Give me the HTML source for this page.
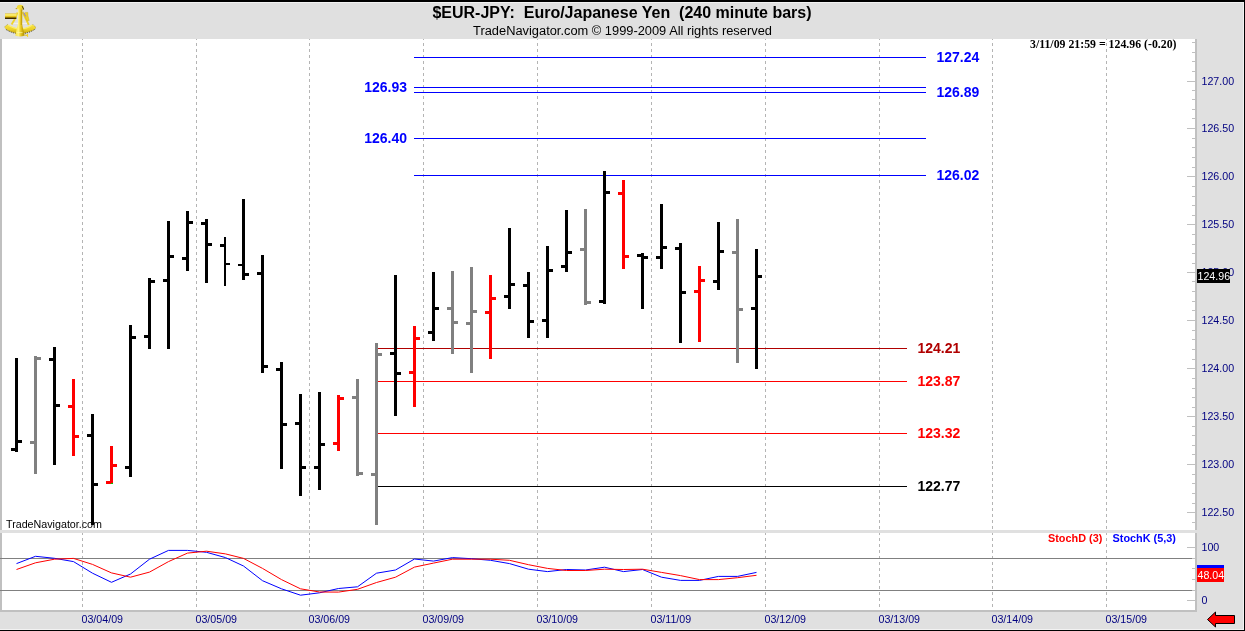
<!DOCTYPE html>
<html lang="en"><head><meta charset="utf-8"><title>$EUR-JPY: Euro/Japanese Yen (240 minute bars)</title>
<style>
html,body{margin:0;padding:0;background:#e0e0e0;}
body{width:1245px;height:631px;overflow:hidden;position:relative;font-family:"Liberation Sans",sans-serif;}
svg{position:absolute;left:0;top:0;display:block;}
text{font-family:"Liberation Sans",sans-serif;}
.ser{font-family:"Liberation Serif",serif;font-weight:bold;}
.b{font-weight:bold;}
.ax{fill:#000080;font-size:10.67px;}
.lv{font-size:14px;font-weight:bold;}
</style></head><body>
<svg width="1245" height="631" viewBox="0 0 1245 631">
<g shape-rendering="crispEdges">
<rect x="0" y="0" width="1245" height="631" fill="#e0e0e0"/>
<rect x="0" y="2" width="1244" height="1" fill="#f2f2f2"/>
<rect x="0" y="629" width="1244" height="1" fill="#f2f2f2"/>
<rect x="1243" y="2" width="1" height="628" fill="#f2f2f2"/>
<rect x="0" y="0" width="1245" height="2" fill="#000"/>
<rect x="0" y="630" width="1245" height="1" fill="#000"/>
<rect x="1244" y="0" width="1" height="631" fill="#000"/>
<rect x="0" y="39" width="1197" height="491" fill="#fff"/>
<rect x="0" y="533" width="1197" height="77" fill="#fff"/>
<rect x="0" y="39" width="2" height="573" fill="#c0c0c0"/>
<rect x="1195" y="39" width="2" height="573" fill="#c0c0c0"/>
<rect x="0" y="610" width="1197" height="2" fill="#c0c0c0"/>
<g stroke="#b4b4b4" stroke-width="1" stroke-dasharray="3 3">
<line x1="82.5" y1="39" x2="82.5" y2="90" stroke-dashoffset="2"/>
<line x1="82.5" y1="90" x2="82.5" y2="266" stroke-dashoffset="0"/>
<line x1="82.5" y1="266" x2="82.5" y2="465" stroke-dashoffset="3"/>
<line x1="82.5" y1="465" x2="82.5" y2="530" stroke-dashoffset="5"/>
<line x1="82.5" y1="533" x2="82.5" y2="610" stroke-dashoffset="1"/>
<line x1="196.5" y1="39" x2="196.5" y2="90" stroke-dashoffset="2"/>
<line x1="196.5" y1="90" x2="196.5" y2="266" stroke-dashoffset="0"/>
<line x1="196.5" y1="266" x2="196.5" y2="465" stroke-dashoffset="3"/>
<line x1="196.5" y1="465" x2="196.5" y2="530" stroke-dashoffset="5"/>
<line x1="196.5" y1="533" x2="196.5" y2="610" stroke-dashoffset="1"/>
<line x1="309.5" y1="39" x2="309.5" y2="90" stroke-dashoffset="2"/>
<line x1="309.5" y1="90" x2="309.5" y2="266" stroke-dashoffset="0"/>
<line x1="309.5" y1="266" x2="309.5" y2="465" stroke-dashoffset="3"/>
<line x1="309.5" y1="465" x2="309.5" y2="530" stroke-dashoffset="5"/>
<line x1="309.5" y1="533" x2="309.5" y2="610" stroke-dashoffset="1"/>
<line x1="423.5" y1="39" x2="423.5" y2="90" stroke-dashoffset="2"/>
<line x1="423.5" y1="90" x2="423.5" y2="266" stroke-dashoffset="0"/>
<line x1="423.5" y1="266" x2="423.5" y2="465" stroke-dashoffset="3"/>
<line x1="423.5" y1="465" x2="423.5" y2="530" stroke-dashoffset="5"/>
<line x1="423.5" y1="533" x2="423.5" y2="610" stroke-dashoffset="1"/>
<line x1="537.5" y1="39" x2="537.5" y2="90" stroke-dashoffset="2"/>
<line x1="537.5" y1="90" x2="537.5" y2="266" stroke-dashoffset="0"/>
<line x1="537.5" y1="266" x2="537.5" y2="465" stroke-dashoffset="3"/>
<line x1="537.5" y1="465" x2="537.5" y2="530" stroke-dashoffset="5"/>
<line x1="537.5" y1="533" x2="537.5" y2="610" stroke-dashoffset="1"/>
<line x1="651.5" y1="39" x2="651.5" y2="90" stroke-dashoffset="2"/>
<line x1="651.5" y1="90" x2="651.5" y2="266" stroke-dashoffset="0"/>
<line x1="651.5" y1="266" x2="651.5" y2="465" stroke-dashoffset="3"/>
<line x1="651.5" y1="465" x2="651.5" y2="530" stroke-dashoffset="5"/>
<line x1="651.5" y1="533" x2="651.5" y2="610" stroke-dashoffset="1"/>
<line x1="765.5" y1="39" x2="765.5" y2="90" stroke-dashoffset="2"/>
<line x1="765.5" y1="90" x2="765.5" y2="266" stroke-dashoffset="0"/>
<line x1="765.5" y1="266" x2="765.5" y2="465" stroke-dashoffset="3"/>
<line x1="765.5" y1="465" x2="765.5" y2="530" stroke-dashoffset="5"/>
<line x1="765.5" y1="533" x2="765.5" y2="610" stroke-dashoffset="1"/>
<line x1="879.5" y1="39" x2="879.5" y2="90" stroke-dashoffset="2"/>
<line x1="879.5" y1="90" x2="879.5" y2="266" stroke-dashoffset="0"/>
<line x1="879.5" y1="266" x2="879.5" y2="465" stroke-dashoffset="3"/>
<line x1="879.5" y1="465" x2="879.5" y2="530" stroke-dashoffset="5"/>
<line x1="879.5" y1="533" x2="879.5" y2="610" stroke-dashoffset="1"/>
<line x1="992.5" y1="39" x2="992.5" y2="90" stroke-dashoffset="2"/>
<line x1="992.5" y1="90" x2="992.5" y2="266" stroke-dashoffset="0"/>
<line x1="992.5" y1="266" x2="992.5" y2="465" stroke-dashoffset="3"/>
<line x1="992.5" y1="465" x2="992.5" y2="530" stroke-dashoffset="5"/>
<line x1="992.5" y1="533" x2="992.5" y2="610" stroke-dashoffset="1"/>
<line x1="1106.5" y1="39" x2="1106.5" y2="90" stroke-dashoffset="2"/>
<line x1="1106.5" y1="90" x2="1106.5" y2="266" stroke-dashoffset="0"/>
<line x1="1106.5" y1="266" x2="1106.5" y2="465" stroke-dashoffset="3"/>
<line x1="1106.5" y1="465" x2="1106.5" y2="530" stroke-dashoffset="5"/>
<line x1="1106.5" y1="533" x2="1106.5" y2="610" stroke-dashoffset="1"/>
</g>
<rect x="1192" y="42" width="3" height="1" fill="#c0c0c0"/>
<rect x="1192" y="52" width="3" height="1" fill="#c0c0c0"/>
<rect x="1192" y="61" width="3" height="1" fill="#c0c0c0"/>
<rect x="1192" y="71" width="3" height="1" fill="#c0c0c0"/>
<rect x="1187" y="81" width="8" height="1" fill="#c0c0c0"/>
<rect x="1192" y="90" width="3" height="1" fill="#c0c0c0"/>
<rect x="1192" y="99" width="3" height="1" fill="#c0c0c0"/>
<rect x="1192" y="109" width="3" height="1" fill="#c0c0c0"/>
<rect x="1192" y="118" width="3" height="1" fill="#c0c0c0"/>
<rect x="1187" y="128" width="8" height="1" fill="#c0c0c0"/>
<rect x="1192" y="138" width="3" height="1" fill="#c0c0c0"/>
<rect x="1192" y="147" width="3" height="1" fill="#c0c0c0"/>
<rect x="1192" y="157" width="3" height="1" fill="#c0c0c0"/>
<rect x="1192" y="167" width="3" height="1" fill="#c0c0c0"/>
<rect x="1187" y="176" width="8" height="1" fill="#c0c0c0"/>
<rect x="1192" y="186" width="3" height="1" fill="#c0c0c0"/>
<rect x="1192" y="196" width="3" height="1" fill="#c0c0c0"/>
<rect x="1192" y="205" width="3" height="1" fill="#c0c0c0"/>
<rect x="1192" y="215" width="3" height="1" fill="#c0c0c0"/>
<rect x="1187" y="224" width="8" height="1" fill="#c0c0c0"/>
<rect x="1192" y="234" width="3" height="1" fill="#c0c0c0"/>
<rect x="1192" y="244" width="3" height="1" fill="#c0c0c0"/>
<rect x="1192" y="253" width="3" height="1" fill="#c0c0c0"/>
<rect x="1192" y="263" width="3" height="1" fill="#c0c0c0"/>
<rect x="1187" y="272" width="8" height="1" fill="#c0c0c0"/>
<rect x="1192" y="281" width="3" height="1" fill="#c0c0c0"/>
<rect x="1192" y="291" width="3" height="1" fill="#c0c0c0"/>
<rect x="1192" y="301" width="3" height="1" fill="#c0c0c0"/>
<rect x="1192" y="310" width="3" height="1" fill="#c0c0c0"/>
<rect x="1187" y="320" width="8" height="1" fill="#c0c0c0"/>
<rect x="1192" y="330" width="3" height="1" fill="#c0c0c0"/>
<rect x="1192" y="339" width="3" height="1" fill="#c0c0c0"/>
<rect x="1192" y="349" width="3" height="1" fill="#c0c0c0"/>
<rect x="1192" y="359" width="3" height="1" fill="#c0c0c0"/>
<rect x="1187" y="368" width="8" height="1" fill="#c0c0c0"/>
<rect x="1192" y="378" width="3" height="1" fill="#c0c0c0"/>
<rect x="1192" y="388" width="3" height="1" fill="#c0c0c0"/>
<rect x="1192" y="397" width="3" height="1" fill="#c0c0c0"/>
<rect x="1192" y="407" width="3" height="1" fill="#c0c0c0"/>
<rect x="1187" y="416" width="8" height="1" fill="#c0c0c0"/>
<rect x="1192" y="426" width="3" height="1" fill="#c0c0c0"/>
<rect x="1192" y="435" width="3" height="1" fill="#c0c0c0"/>
<rect x="1192" y="445" width="3" height="1" fill="#c0c0c0"/>
<rect x="1192" y="454" width="3" height="1" fill="#c0c0c0"/>
<rect x="1187" y="464" width="8" height="1" fill="#c0c0c0"/>
<rect x="1192" y="474" width="3" height="1" fill="#c0c0c0"/>
<rect x="1192" y="483" width="3" height="1" fill="#c0c0c0"/>
<rect x="1192" y="493" width="3" height="1" fill="#c0c0c0"/>
<rect x="1192" y="503" width="3" height="1" fill="#c0c0c0"/>
<rect x="1187" y="512" width="8" height="1" fill="#c0c0c0"/>
<rect x="1192" y="522" width="3" height="1" fill="#c0c0c0"/>
<rect x="0" y="530" width="1197" height="3" fill="#e0e0e0"/>
<rect x="1187" y="547" width="8" height="1" fill="#c0c0c0"/>
<rect x="1192" y="558" width="3" height="1" fill="#c0c0c0"/>
<rect x="1192" y="568" width="3" height="1" fill="#c0c0c0"/>
<rect x="1192" y="579" width="3" height="1" fill="#c0c0c0"/>
<rect x="1192" y="590" width="3" height="1" fill="#c0c0c0"/>
<rect x="1187" y="600" width="8" height="1" fill="#c0c0c0"/>
<rect x="0" y="558" width="1192" height="1" fill="#808080"/>
<rect x="0" y="590" width="1192" height="1" fill="#808080"/>
<rect x="414" y="57" width="512" height="1" fill="#00f"/>
<rect x="414" y="87" width="512" height="1" fill="#00f"/>
<rect x="414" y="92" width="512" height="1" fill="#00f"/>
<rect x="414" y="138" width="512" height="1" fill="#00f"/>
<rect x="414" y="175" width="512" height="1" fill="#00f"/>
<rect x="377" y="348" width="530" height="1" fill="#b00000"/>
<rect x="377" y="381" width="530" height="1" fill="#f00"/>
<rect x="377" y="433" width="530" height="1" fill="#f00"/>
<rect x="377" y="486" width="530" height="1" fill="#000"/>
<rect x="15" y="358" width="3" height="94" fill="#000"/>
<rect x="11" y="448" width="4" height="3" fill="#000"/>
<rect x="18" y="440" width="4" height="3" fill="#000"/>
<rect x="34" y="356" width="3" height="118" fill="#808080"/>
<rect x="30" y="441" width="4" height="3" fill="#808080"/>
<rect x="37" y="357" width="4" height="3" fill="#808080"/>
<rect x="53" y="347" width="3" height="118" fill="#000"/>
<rect x="49" y="358" width="4" height="3" fill="#000"/>
<rect x="56" y="404" width="4" height="3" fill="#000"/>
<rect x="72" y="379" width="3" height="77" fill="#f00"/>
<rect x="68" y="405" width="4" height="3" fill="#f00"/>
<rect x="75" y="435" width="4" height="3" fill="#f00"/>
<rect x="91" y="414" width="3" height="111" fill="#000"/>
<rect x="87" y="434" width="4" height="3" fill="#000"/>
<rect x="94" y="483" width="4" height="3" fill="#000"/>
<rect x="110" y="446" width="3" height="38" fill="#f00"/>
<rect x="106" y="481" width="4" height="3" fill="#f00"/>
<rect x="113" y="464" width="4" height="3" fill="#f00"/>
<rect x="129" y="325" width="3" height="152" fill="#000"/>
<rect x="125" y="466" width="4" height="3" fill="#000"/>
<rect x="132" y="336" width="4" height="3" fill="#000"/>
<rect x="148" y="278" width="3" height="71" fill="#000"/>
<rect x="144" y="335" width="4" height="3" fill="#000"/>
<rect x="151" y="280" width="4" height="3" fill="#000"/>
<rect x="167" y="221" width="3" height="128" fill="#000"/>
<rect x="163" y="279" width="4" height="3" fill="#000"/>
<rect x="170" y="255" width="4" height="3" fill="#000"/>
<rect x="186" y="211" width="3" height="60" fill="#000"/>
<rect x="182" y="257" width="4" height="3" fill="#000"/>
<rect x="189" y="221" width="4" height="3" fill="#000"/>
<rect x="205" y="219" width="3" height="64" fill="#000"/>
<rect x="201" y="222" width="4" height="3" fill="#000"/>
<rect x="208" y="243" width="4" height="3" fill="#000"/>
<rect x="224" y="237" width="2" height="49" fill="#000"/>
<rect x="220" y="244" width="4" height="3" fill="#000"/>
<rect x="226" y="263" width="4" height="2" fill="#000"/>
<rect x="242" y="199" width="3" height="81" fill="#000"/>
<rect x="238" y="264" width="4" height="2" fill="#000"/>
<rect x="245" y="273" width="4" height="3" fill="#000"/>
<rect x="261" y="255" width="3" height="118" fill="#000"/>
<rect x="257" y="272" width="4" height="3" fill="#000"/>
<rect x="264" y="365" width="4" height="3" fill="#000"/>
<rect x="280" y="362" width="3" height="107" fill="#000"/>
<rect x="276" y="368" width="4" height="3" fill="#000"/>
<rect x="283" y="423" width="4" height="3" fill="#000"/>
<rect x="299" y="394" width="3" height="102" fill="#000"/>
<rect x="295" y="422" width="4" height="3" fill="#000"/>
<rect x="302" y="466" width="4" height="3" fill="#000"/>
<rect x="318" y="392" width="3" height="98" fill="#000"/>
<rect x="314" y="466" width="4" height="3" fill="#000"/>
<rect x="321" y="443" width="4" height="3" fill="#000"/>
<rect x="337" y="395" width="3" height="56" fill="#f00"/>
<rect x="333" y="442" width="4" height="3" fill="#f00"/>
<rect x="340" y="397" width="4" height="3" fill="#f00"/>
<rect x="356" y="379" width="3" height="97" fill="#808080"/>
<rect x="352" y="396" width="4" height="3" fill="#808080"/>
<rect x="359" y="472" width="4" height="3" fill="#808080"/>
<rect x="375" y="343" width="3" height="182" fill="#808080"/>
<rect x="371" y="473" width="4" height="3" fill="#808080"/>
<rect x="378" y="353" width="4" height="3" fill="#808080"/>
<rect x="394" y="275" width="3" height="141" fill="#000"/>
<rect x="390" y="352" width="4" height="3" fill="#000"/>
<rect x="397" y="372" width="4" height="3" fill="#000"/>
<rect x="413" y="326" width="3" height="81" fill="#f00"/>
<rect x="409" y="371" width="4" height="3" fill="#f00"/>
<rect x="416" y="337" width="4" height="3" fill="#f00"/>
<rect x="432" y="272" width="3" height="69" fill="#000"/>
<rect x="428" y="331" width="4" height="3" fill="#000"/>
<rect x="435" y="307" width="4" height="3" fill="#000"/>
<rect x="451" y="271" width="3" height="83" fill="#808080"/>
<rect x="447" y="307" width="4" height="3" fill="#808080"/>
<rect x="454" y="321" width="4" height="3" fill="#808080"/>
<rect x="470" y="267" width="3" height="106" fill="#808080"/>
<rect x="466" y="322" width="4" height="3" fill="#808080"/>
<rect x="473" y="310" width="4" height="3" fill="#808080"/>
<rect x="489" y="275" width="3" height="84" fill="#f00"/>
<rect x="485" y="311" width="4" height="3" fill="#f00"/>
<rect x="492" y="297" width="4" height="3" fill="#f00"/>
<rect x="508" y="228" width="3" height="81" fill="#000"/>
<rect x="504" y="295" width="4" height="3" fill="#000"/>
<rect x="511" y="283" width="4" height="3" fill="#000"/>
<rect x="527" y="272" width="3" height="66" fill="#000"/>
<rect x="523" y="284" width="4" height="3" fill="#000"/>
<rect x="530" y="320" width="4" height="3" fill="#000"/>
<rect x="546" y="246" width="3" height="92" fill="#000"/>
<rect x="542" y="319" width="4" height="3" fill="#000"/>
<rect x="549" y="269" width="4" height="3" fill="#000"/>
<rect x="565" y="210" width="3" height="62" fill="#000"/>
<rect x="561" y="265" width="4" height="3" fill="#000"/>
<rect x="568" y="251" width="4" height="3" fill="#000"/>
<rect x="584" y="209" width="3" height="96" fill="#808080"/>
<rect x="580" y="248" width="4" height="3" fill="#808080"/>
<rect x="587" y="301" width="4" height="3" fill="#808080"/>
<rect x="603" y="171" width="3" height="133" fill="#000"/>
<rect x="599" y="300" width="4" height="3" fill="#000"/>
<rect x="606" y="191" width="4" height="3" fill="#000"/>
<rect x="622" y="180" width="3" height="89" fill="#f00"/>
<rect x="618" y="192" width="4" height="3" fill="#f00"/>
<rect x="625" y="255" width="4" height="3" fill="#f00"/>
<rect x="641" y="253" width="3" height="56" fill="#000"/>
<rect x="637" y="254" width="4" height="3" fill="#000"/>
<rect x="644" y="256" width="4" height="3" fill="#000"/>
<rect x="660" y="204" width="3" height="65" fill="#000"/>
<rect x="656" y="256" width="4" height="3" fill="#000"/>
<rect x="663" y="246" width="4" height="3" fill="#000"/>
<rect x="679" y="243" width="3" height="100" fill="#000"/>
<rect x="675" y="247" width="4" height="3" fill="#000"/>
<rect x="682" y="291" width="4" height="3" fill="#000"/>
<rect x="698" y="266" width="3" height="76" fill="#f00"/>
<rect x="694" y="290" width="4" height="3" fill="#f00"/>
<rect x="701" y="279" width="4" height="3" fill="#f00"/>
<rect x="717" y="222" width="3" height="68" fill="#000"/>
<rect x="713" y="280" width="4" height="3" fill="#000"/>
<rect x="720" y="250" width="4" height="3" fill="#000"/>
<rect x="736" y="219" width="3" height="144" fill="#808080"/>
<rect x="732" y="251" width="4" height="3" fill="#808080"/>
<rect x="739" y="308" width="4" height="3" fill="#808080"/>
<rect x="755" y="249" width="3" height="120" fill="#000"/>
<rect x="751" y="307" width="4" height="3" fill="#000"/>
<rect x="758" y="275" width="4" height="3" fill="#000"/>
<rect x="111" y="483" width="2" height="1" fill="#0c0"/>
</g>
<polyline points="16.5,563.6 35.5,556.3 54.5,558.3 73.5,561.6 92.5,573.2 111.5,582.3 130.5,574.0 149.5,559.2 168.5,550.4 187.5,550.4 206.5,552.3 225.5,557.6 243.5,566.0 262.5,580.7 281.5,588.8 300.5,595.2 319.5,592.8 338.5,588.5 357.5,586.8 376.5,573.2 395.5,570.0 414.5,559.0 433.5,561.1 452.5,557.6 471.5,558.7 490.5,560.3 509.5,563.6 528.5,569.2 547.5,571.6 566.5,569.5 585.5,570.0 604.5,567.2 623.5,571.6 642.5,569.5 661.5,577.2 680.5,580.4 699.5,580.4 718.5,576.4 737.5,576.4 756.5,572.4" fill="none" stroke="#00f" stroke-width="1"/>
<polyline points="16.5,569.5 35.5,562.8 54.5,559.2 73.5,558.4 92.5,564.4 111.5,572.9 130.5,577.2 149.5,572.1 168.5,561.6 187.5,553.1 206.5,551.2 225.5,553.9 243.5,558.4 262.5,568.4 281.5,579.6 300.5,588.8 319.5,592.0 338.5,592.1 357.5,589.3 376.5,582.5 395.5,577.2 414.5,567.1 433.5,563.1 452.5,559.2 471.5,559.2 490.5,559.2 509.5,560.3 528.5,564.7 547.5,568.4 566.5,570.5 585.5,570.5 604.5,569.2 623.5,569.5 642.5,569.2 661.5,572.4 680.5,575.6 699.5,579.6 718.5,579.6 737.5,577.7 756.5,575.3" fill="none" stroke="#f00" stroke-width="1"/>
<g shape-rendering="crispEdges">
<rect x="1197" y="565" width="27" height="14" fill="#00f"/>
<rect x="1197" y="568" width="27" height="14" fill="#f00"/>
</g>
<text class="ax" x="1201.5" y="85.3">127.00</text>
<text class="ax" x="1201.5" y="132.3">126.50</text>
<text class="ax" x="1201.5" y="180.3">126.00</text>
<text class="ax" x="1201.5" y="228.3">125.50</text>
<text class="ax" x="1201.5" y="276.3">125.00</text>
<text class="ax" x="1201.5" y="324.3">124.50</text>
<text class="ax" x="1201.5" y="372.3">124.00</text>
<text class="ax" x="1201.5" y="420.3">123.50</text>
<text class="ax" x="1201.5" y="468.3">123.00</text>
<text class="ax" x="1201.5" y="516.3">122.50</text>
<rect x="1197" y="269" width="33" height="14" fill="#000" shape-rendering="crispEdges"/>
<text x="1197.5" y="280" fill="#fff" font-size="10.67px">124.96</text>
<text class="ax" x="1201.5" y="551">100</text>
<text class="ax" x="1201.5" y="604">0</text>
<text x="1197.5" y="579" fill="#fff" font-size="10.67px">48.04</text>
<text class="ax" x="81.5" y="623">03/04/09</text>
<text class="ax" x="195.5" y="623">03/05/09</text>
<text class="ax" x="308.5" y="623">03/06/09</text>
<text class="ax" x="422.5" y="623">03/09/09</text>
<text class="ax" x="536.5" y="623">03/10/09</text>
<text class="ax" x="650.5" y="623">03/11/09</text>
<text class="ax" x="764.5" y="623">03/12/09</text>
<text class="ax" x="878.5" y="623">03/13/09</text>
<text class="ax" x="991.5" y="623">03/14/09</text>
<text class="ax" x="1105.5" y="623">03/15/09</text>
<text x="622" y="18" text-anchor="middle" font-size="16px" font-weight="bold" fill="#000" xml:space="preserve" style="white-space:pre">$EUR-JPY:  Euro/Japanese Yen  (240 minute bars)</text>
<text x="622.5" y="35.4" text-anchor="middle" font-size="12.85px" fill="#000">TradeNavigator.com © 1999-2009 All rights reserved</text>
<text class="ser" x="1030" y="48" font-size="11.5px" textLength="146.5" lengthAdjust="spacingAndGlyphs" fill="#000">3/11/09 21:59 = 124.96 (-0.20)</text>
<text x="6" y="528" font-size="11px" textLength="96" lengthAdjust="spacingAndGlyphs" fill="#000">TradeNavigator.com</text>
<text class="lv" x="407" y="91.7" fill="#00f" text-anchor="end">126.93</text>
<text class="lv" x="407" y="142.7" fill="#00f" text-anchor="end">126.40</text>
<text class="lv" x="936.4" y="61.7" fill="#00f" text-anchor="start">127.24</text>
<text class="lv" x="936.4" y="96.7" fill="#00f" text-anchor="start">126.89</text>
<text class="lv" x="936.4" y="179.7" fill="#00f" text-anchor="start">126.02</text>
<text class="lv" x="917.5" y="352.7" fill="#b00000" text-anchor="start">124.21</text>
<text class="lv" x="917.5" y="385.7" fill="#f00" text-anchor="start">123.87</text>
<text class="lv" x="917.5" y="437.7" fill="#f00" text-anchor="start">123.32</text>
<text class="lv" x="917.5" y="490.7" fill="#000" text-anchor="start">122.77</text>
<text x="1048" y="541.5" font-size="10.5px" font-weight="bold" textLength="54.3" lengthAdjust="spacingAndGlyphs" fill="#f00">StochD (3)</text>
<text x="1112.5" y="541.5" font-size="10.5px" font-weight="bold" textLength="63.5" lengthAdjust="spacingAndGlyphs" fill="#00f">StochK (5,3)</text>
<polygon points="1207.5,619.5 1215.5,612 1215.5,615.5 1234.5,615.5 1234.5,623.5 1215.5,623.5 1215.5,627" fill="#f00" stroke="#000" stroke-width="1"/>
<defs>
<linearGradient id="gTel" x1="0" y1="0" x2="0" y2="1"><stop offset="0" stop-color="#b8a8e8"/><stop offset="0.12" stop-color="#f4e04a"/><stop offset="0.35" stop-color="#fff27a"/><stop offset="0.6" stop-color="#e2bf18"/><stop offset="0.85" stop-color="#5a4200"/><stop offset="1" stop-color="#1a1000"/></linearGradient>
<linearGradient id="gArm" x1="0" y1="0" x2="1" y2="0"><stop offset="0" stop-color="#f6e24a"/><stop offset="0.35" stop-color="#fff27a"/><stop offset="0.6" stop-color="#e8c820"/><stop offset="1" stop-color="#a88800"/></linearGradient>
<linearGradient id="gArc" x1="0" y1="0" x2="0" y2="1"><stop offset="0" stop-color="#f8e448"/><stop offset="0.55" stop-color="#ecd028"/><stop offset="1" stop-color="#c8a408"/></linearGradient>
</defs>
<g id="icon">
<path d="M14.6,19.6 L11.6,24.4 M26.2,19.6 L28.8,25 M17.5,12.5 L14.5,19.6 M22.6,12 L26.2,19.6" stroke="#efd42e" stroke-width="1.9" fill="none"/>
<path d="M13.6,23.4 H27" stroke="#f4f0e8" stroke-width="1.1" fill="none"/>
<path d="M7.6,24.4 A21.2,21.2 0 0 0 32.8,24.4 L36,27.5 L35.2,28.8 A25.8,25.8 0 0 1 5.4,28.8 L4.5,26.8 Z" fill="url(#gArc)"/>
<path d="M35.2,29 A25.8,25.8 0 0 1 5.4,29" stroke="#2a2000" stroke-width="0.9" stroke-dasharray="1 1" fill="none"/>
<path d="M4.6,26.9 L7.6,24.4 M32.8,24.4 L36,27.5" stroke="#5a4800" stroke-width="0.5" stroke-dasharray="0.8 0.8" fill="none"/>
<path d="M8.2,25 A20.8,20.8 0 0 0 32.2,25" stroke="#fbee6a" stroke-width="1.1" fill="none"/>
<rect x="5" y="13" width="11.4" height="6" fill="url(#gTel)"/>
<path d="M25.6,12.4 L27.8,12.4 L28,16 L29.2,20.6 L27,21 L24.6,15.8 L23.6,13.6 Z" fill="#ecd02c" stroke="#c8a810" stroke-width="0.4"/>
<path d="M23.6,12.6 L25.8,16.4" stroke="#8878f0" stroke-width="1" fill="none"/>
<ellipse cx="20.2" cy="7.2" rx="3.4" ry="2.5" fill="#f2da38"/>
<path d="M22.2,6.2 L23.6,9.2 L22.8,9.6" stroke="#2a2000" stroke-width="0.9" fill="none"/>
<circle cx="16.3" cy="8.6" r="0.7" fill="#b89400"/>
<path d="M18.2,8.6 L22.4,8.6 L22.2,24.6 L22.8,27.4 L24.6,35.4 Q20,37.6 15.2,35.4 L17,27.4 L18,24.6 Z" fill="url(#gArm)"/>
<path d="M21.4,10 L21.3,25" stroke="#c09c08" stroke-width="0.9" fill="none"/>
<path d="M16.6,32.6 H22.6" stroke="#fff8b0" stroke-width="0.8" fill="none" opacity="0.8"/>
<path d="M24.4,35 L27.2,35.3" stroke="#e8c820" stroke-width="1.2" fill="none"/>
<rect x="27" y="34" width="1.1" height="2.9" fill="#f0d428"/>
</g>
</svg></body></html>
